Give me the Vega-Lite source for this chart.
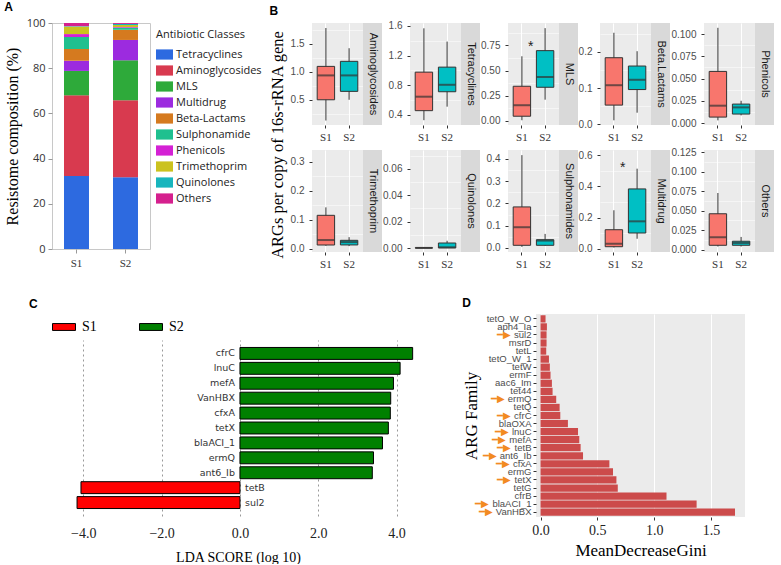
{
"$schema": "https://vega.github.io/schema/vega-lite/v6.json",
"padding": {"left": 3, "top": 0, "right": 0, "bottom": 0},
"background": "#FFFFFF",
"datasets": {
"comp": [
{"sample":"S1","cls":"Tetracyclines","pct":32.3},{"sample":"S1","cls":"Aminoglycosides","pct":35.7},{"sample":"S1","cls":"MLS","pct":10.8},{"sample":"S1","cls":"Multidrug","pct":4.5},{"sample":"S1","cls":"Beta-Lactams","pct":5.2},{"sample":"S1","cls":"Sulphonamide","pct":5.3},{"sample":"S1","cls":"Phenicols","pct":1.3},{"sample":"S1","cls":"Trimethoprim","pct":3.3},{"sample":"S1","cls":"Quinolones","pct":0.2},{"sample":"S1","cls":"Others","pct":1.4},
{"sample":"S2","cls":"Tetracyclines","pct":31.7},{"sample":"S2","cls":"Aminoglycosides","pct":34.1},{"sample":"S2","cls":"MLS","pct":17.7},{"sample":"S2","cls":"Multidrug","pct":9.0},{"sample":"S2","cls":"Beta-Lactams","pct":4.5},{"sample":"S2","cls":"Sulphonamide","pct":0.9},{"sample":"S2","cls":"Phenicols","pct":0.3},{"sample":"S2","cls":"Trimethoprim","pct":0.9},{"sample":"S2","cls":"Quinolones","pct":0.5},{"sample":"S2","cls":"Others","pct":0.4}
],
"box": [
{"cls":"Aminoglycosides","group":"S1","min":0.13,"q1":0.5,"med":0.935,"q3":1.096,"max":1.78},
{"cls":"Aminoglycosides","group":"S2","min":0.5,"q1":0.65,"med":0.935,"q3":1.186,"max":1.42},
{"cls":"Tetracyclines","group":"S1","min":0.325,"q1":0.454,"med":0.643,"q3":0.975,"max":1.568},
{"cls":"Tetracyclines","group":"S2","min":0.508,"q1":0.71,"med":0.804,"q3":1.043,"max":1.389},
{"cls":"MLS","group":"S1","min":0.007,"q1":0.047,"med":0.156,"q3":0.344,"max":0.641},
{"cls":"MLS","group":"S2","min":0.211,"q1":0.334,"med":0.436,"q3":0.697,"max":0.92},
{"cls":"Beta.Lactams","group":"S1","min":0.011,"q1":0.053,"med":0.108,"q3":0.184,"max":0.253},
{"cls":"Beta.Lactams","group":"S2","min":0.032,"q1":0.096,"med":0.123,"q3":0.161,"max":0.202},
{"cls":"Phenicols","group":"S1","min":0.003,"q1":0.0067,"med":0.0195,"q3":0.058,"max":0.107},
{"cls":"Phenicols","group":"S2","min":0.0086,"q1":0.0101,"med":0.0176,"q3":0.0213,"max":0.025},
{"cls":"Trimethoprim","group":"S1","min":0.01,"q1":0.0128,"med":0.03,"q3":0.1155,"max":0.143},
{"cls":"Trimethoprim","group":"S2","min":0.009,"q1":0.013,"med":0.023,"q3":0.029,"max":0.04},
{"cls":"Quinolones","group":"S1","min":0,"q1":0,"med":0.0001,"q3":0.0002,"max":0.0003},
{"cls":"Quinolones","group":"S2","min":0,"q1":0.0001,"med":0.0006,"q3":0.0038,"max":0.0055},
{"cls":"Sulphonamides","group":"S1","min":0.005,"q1":0.012,"med":0.093,"q3":0.184,"max":0.416},
{"cls":"Sulphonamides","group":"S2","min":0.01,"q1":0.012,"med":0.033,"q3":0.037,"max":0.063},
{"cls":"Multidrug","group":"S1","min":0.008,"q1":0.013,"med":0.032,"q3":0.122,"max":0.247},
{"cls":"Multidrug","group":"S2","min":0.064,"q1":0.101,"med":0.176,"q3":0.384,"max":0.514},
{"cls":"Others","group":"S1","min":0.004,"q1":0.0056,"med":0.0159,"q3":0.046,"max":0.0726},
{"cls":"Others","group":"S2","min":0.004,"q1":0.0056,"med":0.0086,"q3":0.0108,"max":0.0163}
],
"stars": [
{"cls":"MLS","group":"S1","v":0.736,"t":"*"},
{"cls":"Multidrug","group":"S1","v":0.517,"t":"*"}
],
"lda": [
{"gene":"cfrC","lda":4.41,"grp":"S2"},{"gene":"lnuC","lda":4.09,"grp":"S2"},{"gene":"mefA","lda":3.92,"grp":"S2"},{"gene":"VanHBX","lda":3.85,"grp":"S2"},{"gene":"cfxA","lda":3.84,"grp":"S2"},{"gene":"tetX","lda":3.79,"grp":"S2"},{"gene":"blaACI_1","lda":3.64,"grp":"S2"},{"gene":"ermQ","lda":3.41,"grp":"S2"},{"gene":"ant6_Ib","lda":3.38,"grp":"S2"},{"gene":"tetB","lda":-4.06,"grp":"S1"},{"gene":"sul2","lda":-4.16,"grp":"S1"}
],
"gini": [
{"gene":"tetO_W_O","g":0.044,"arrow":false},{"gene":"aph4_Ia","g":0.056,"arrow":false},{"gene":"sul2","g":0.053,"arrow":true},{"gene":"msrD","g":0.053,"arrow":false},{"gene":"tetL","g":0.05,"arrow":false},{"gene":"tetO_W_1","g":0.074,"arrow":false},{"gene":"tetW","g":0.082,"arrow":false},{"gene":"ermF","g":0.088,"arrow":false},{"gene":"aac6_Im","g":0.1,"arrow":false},{"gene":"tet44","g":0.106,"arrow":false},{"gene":"ermQ","g":0.138,"arrow":true},{"gene":"tetQ","g":0.168,"arrow":false},{"gene":"cfrC","g":0.174,"arrow":true},{"gene":"blaOXA","g":0.241,"arrow":false},{"gene":"lnuC","g":0.33,"arrow":true},{"gene":"mefA","g":0.341,"arrow":true},{"gene":"tetB","g":0.353,"arrow":true},{"gene":"ant6_Ib","g":0.374,"arrow":true},{"gene":"cfxA","g":0.606,"arrow":true},{"gene":"ermG","g":0.638,"arrow":false},{"gene":"tetX","g":0.668,"arrow":true},{"gene":"tetG","g":0.68,"arrow":false},{"gene":"cfrB","g":1.109,"arrow":false},{"gene":"blaACI_1","g":1.374,"arrow":true},{"gene":"VanHBX","g":1.712,"arrow":true}
]
},
"vconcat": [
{
"hconcat": [
{
"title": {"text": "A"},
"width": 98, "height": 226,
"data": {"name": "comp"},
"transform": [{"calculate": "indexof(['Tetracyclines','Aminoglycosides','MLS','Multidrug','Beta-Lactams','Sulphonamide','Phenicols','Trimethoprim','Quinolones','Others'], datum.cls)", "as": "ord"}],
"view": {"stroke": "#C8C8C8", "strokeWidth": 1},
"mark": {"type": "bar"},
"encoding": {
"x": {"field": "sample", "type": "nominal", "title": null, "scale": {"paddingInner": 0.49, "paddingOuter": 0.245}, "axis": {"grid": false, "labelFont": "Liberation Serif", "labelFontSize": 11, "labelColor": "#333333", "tickColor": "#999999", "tickSize": 4, "labelPadding": 4}},
"y": {"field": "pct", "type": "quantitative", "stack": "zero", "title": "Resistome composition (%)", "scale": {"domain": [0, 100], "nice": false}, "axis": {"grid": false, "values": [0, 20, 40, 60, 80, 100], "labelFont": "Open Sans", "labelFontSize": 11, "labelColor": "#333333", "tickColor": "#999999", "tickSize": 4, "labelPadding": 3, "titleFontSize": 16, "titlePadding": 6}},
"color": {"field": "cls", "type": "nominal",
"scale": {"domain": ["Tetracyclines","Aminoglycosides","MLS","Multidrug","Beta-Lactams","Sulphonamide","Phenicols","Trimethoprim","Quinolones","Others"], "range": ["#2D6AE0","#D83A4F","#2EAA3A","#9C2BDF","#D57A1F","#1FC08F","#D421D4","#CBC21E","#18B5BD","#D5208E"]},
"legend": {"title": "Antibiotic Classes", "titleFont": "Open Sans", "titleFontSize": 11, "titleFontWeight": "normal", "titleColor": "#222222", "titlePadding": 6, "labelFont": "Open Sans", "labelFontSize": 11, "labelColor": "#222222", "symbolType": "M-1,-0.6H1V0.6H-1Z", "symbolSize": 289, "symbolStrokeWidth": 0, "rowPadding": 2, "labelOffset": 3, "offset": 0, "padding": 6}},
"order": {"field": "ord", "type": "quantitative"}
}
},
{
"title": {"text": "B"},
"vconcat": [
{
"title": {"text": "ARGs per copy of 16s-rRNA gene", "orient": "left", "anchor": "middle", "font": "Liberation Serif", "fontSize": 16.5, "fontWeight": "normal", "offset": 4},
"columns": 10, "align": "each", "spacing": {"row": 5, "column": 0},
"concat": [
{"width":51,"height":102,"data":{"name":"box"},"transform":[{"filter":"datum.cls==='Aminoglycosides'"}],"view":{"fill":"#EBEBEB","stroke":null},"encoding":{"x":{"field":"group","type":"nominal","title":null,"scale":{"domain":["S1","S2"],"paddingInner":0.25,"paddingOuter":0.224},"axis":{"bandPosition":0.5}}},"layer":[{"mark":{"type":"rule","color":"#333333"},"encoding":{"y":{"field":"min","type":"quantitative","title":null,"scale":{"domain":[0.05,1.87],"nice":false,"zero":false},"axis":{"orient":"left","values":[0.25,0.75,1.25,1.75],"labels":false,"ticks":false,"gridWidth":0.5}},"y2":{"field":"max"}}},{"mark":{"type":"bar","stroke":"#333333","strokeWidth":1},"encoding":{"y":{"field":"q1","type":"quantitative","title":null,"scale":{"domain":[0.05,1.87],"nice":false,"zero":false},"axis":{"orient":"left","values":[0.5,1,1.5],"format":".1f"}},"y2":{"field":"q3"},"color":{"field":"group","type":"nominal","scale":{"domain":["S1","S2"],"range":["#F8766D","#00BFC4"]},"legend":null}}},{"mark":{"type":"tick","color":"#333333","thickness":2,"size":17},"encoding":{"y":{"field":"med","type":"quantitative","scale":{"domain":[0.05,1.87],"nice":false,"zero":false},"axis":null}}}],"resolve":{"axis":{"y":"independent"}}},
{"width":19,"height":102,"data":{"values":[{"t":"Aminoglycosides"}]},"view":{"fill":"#D9D9D9","stroke":null},"mark":{"type":"text","angle":90,"font":"Liberation Sans","fontSize":11,"color":"#1A1A1A"},"encoding":{"text":{"field":"t","type":"nominal"}}},

{"width":51,"height":102,"data":{"name":"box"},"transform":[{"filter":"datum.cls==='Tetracyclines'"}],"view":{"fill":"#EBEBEB","stroke":null},"encoding":{"x":{"field":"group","type":"nominal","title":null,"scale":{"domain":["S1","S2"],"paddingInner":0.25,"paddingOuter":0.224},"axis":{"bandPosition":0.5}}},"layer":[{"mark":{"type":"rule","color":"#333333"},"encoding":{"y":{"field":"min","type":"quantitative","title":null,"scale":{"domain":[0.26,1.64],"nice":false,"zero":false},"axis":{"orient":"left","values":[0.6,1.0,1.4],"labels":false,"ticks":false,"gridWidth":0.5}},"y2":{"field":"max"}}},{"mark":{"type":"bar","stroke":"#333333","strokeWidth":1},"encoding":{"y":{"field":"q1","type":"quantitative","title":null,"scale":{"domain":[0.26,1.64],"nice":false,"zero":false},"axis":{"orient":"left","values":[0.4,0.8,1.2,1.6],"format":".1f"}},"y2":{"field":"q3"},"color":{"field":"group","type":"nominal","scale":{"domain":["S1","S2"],"range":["#F8766D","#00BFC4"]},"legend":null}}},{"mark":{"type":"tick","color":"#333333","thickness":2,"size":17},"encoding":{"y":{"field":"med","type":"quantitative","scale":{"domain":[0.26,1.64],"nice":false,"zero":false},"axis":null}}}],"resolve":{"axis":{"y":"independent"}}},
{"width":19,"height":102,"data":{"values":[{"t":"Tetracyclines"}]},"view":{"fill":"#D9D9D9","stroke":null},"mark":{"type":"text","angle":90,"font":"Liberation Sans","fontSize":11,"color":"#1A1A1A"},"encoding":{"text":{"field":"t","type":"nominal"}}},

{"width":51,"height":102,"data":{"name":"box"},"transform":[{"filter":"datum.cls==='MLS'"}],"view":{"fill":"#EBEBEB","stroke":null},"encoding":{"x":{"field":"group","type":"nominal","title":null,"scale":{"domain":["S1","S2"],"paddingInner":0.25,"paddingOuter":0.224},"axis":{"bandPosition":0.5}}},"layer":[{"mark":{"type":"rule","color":"#333333"},"encoding":{"y":{"field":"min","type":"quantitative","title":null,"scale":{"domain":[-0.04,0.971],"nice":false,"zero":false},"axis":{"orient":"left","values":[0.125,0.375,0.625,0.875],"labels":false,"ticks":false,"gridWidth":0.5}},"y2":{"field":"max"}}},{"mark":{"type":"bar","stroke":"#333333","strokeWidth":1},"encoding":{"y":{"field":"q1","type":"quantitative","title":null,"scale":{"domain":[-0.04,0.971],"nice":false,"zero":false},"axis":{"orient":"left","values":[0,0.25,0.5,0.75],"format":".2f"}},"y2":{"field":"q3"},"color":{"field":"group","type":"nominal","scale":{"domain":["S1","S2"],"range":["#F8766D","#00BFC4"]},"legend":null}}},{"mark":{"type":"tick","color":"#333333","thickness":2,"size":17},"encoding":{"y":{"field":"med","type":"quantitative","scale":{"domain":[-0.04,0.971],"nice":false,"zero":false},"axis":null}}},{"data":{"name":"stars"},"transform":[{"filter":"datum.cls==='MLS'"}],"mark":{"type":"text","font":"Liberation Sans","fontSize":14,"color":"#222222"},"encoding":{"x":{"field":"group","type":"nominal","bandPosition":1},"y":{"field":"v","type":"quantitative","scale":{"domain":[-0.04,0.971],"nice":false,"zero":false},"axis":null},"text":{"field":"t","type":"nominal"}}}],"resolve":{"axis":{"y":"independent"}}},
{"width":19,"height":102,"data":{"values":[{"t":"MLS"}]},"view":{"fill":"#D9D9D9","stroke":null},"mark":{"type":"text","angle":90,"font":"Liberation Sans","fontSize":11,"color":"#1A1A1A"},"encoding":{"text":{"field":"t","type":"nominal"}}},

{"width":51,"height":102,"data":{"name":"box"},"transform":[{"filter":"datum.cls==='Beta.Lactams'"}],"view":{"fill":"#EBEBEB","stroke":null},"encoding":{"x":{"field":"group","type":"nominal","title":null,"scale":{"domain":["S1","S2"],"paddingInner":0.25,"paddingOuter":0.224},"axis":{"bandPosition":0.5}}},"layer":[{"mark":{"type":"rule","color":"#333333"},"encoding":{"y":{"field":"min","type":"quantitative","title":null,"scale":{"domain":[-0.002,0.28],"nice":false,"zero":false},"axis":{"orient":"left","values":[0.05,0.15,0.25],"labels":false,"ticks":false,"gridWidth":0.5}},"y2":{"field":"max"}}},{"mark":{"type":"bar","stroke":"#333333","strokeWidth":1},"encoding":{"y":{"field":"q1","type":"quantitative","title":null,"scale":{"domain":[-0.002,0.28],"nice":false,"zero":false},"axis":{"orient":"left","values":[0,0.1,0.2],"format":".1f"}},"y2":{"field":"q3"},"color":{"field":"group","type":"nominal","scale":{"domain":["S1","S2"],"range":["#F8766D","#00BFC4"]},"legend":null}}},{"mark":{"type":"tick","color":"#333333","thickness":2,"size":17},"encoding":{"y":{"field":"med","type":"quantitative","scale":{"domain":[-0.002,0.28],"nice":false,"zero":false},"axis":null}}}],"resolve":{"axis":{"y":"independent"}}},
{"width":19,"height":102,"data":{"values":[{"t":"Beta.Lactams"}]},"view":{"fill":"#D9D9D9","stroke":null},"mark":{"type":"text","angle":90,"font":"Liberation Sans","fontSize":11,"color":"#1A1A1A"},"encoding":{"text":{"field":"t","type":"nominal"}}},

{"width":51,"height":102,"data":{"name":"box"},"transform":[{"filter":"datum.cls==='Phenicols'"}],"view":{"fill":"#EBEBEB","stroke":null},"encoding":{"x":{"field":"group","type":"nominal","title":null,"scale":{"domain":["S1","S2"],"paddingInner":0.25,"paddingOuter":0.224},"axis":{"bandPosition":0.5}}},"layer":[{"mark":{"type":"rule","color":"#333333"},"encoding":{"y":{"field":"min","type":"quantitative","title":null,"scale":{"domain":[-0.0022,0.1124],"nice":false,"zero":false},"axis":{"orient":"left","values":[0.0125,0.0375,0.0625,0.0875],"labels":false,"ticks":false,"gridWidth":0.5}},"y2":{"field":"max"}}},{"mark":{"type":"bar","stroke":"#333333","strokeWidth":1},"encoding":{"y":{"field":"q1","type":"quantitative","title":null,"scale":{"domain":[-0.0022,0.1124],"nice":false,"zero":false},"axis":{"orient":"left","values":[0,0.025,0.05,0.075,0.1],"format":".3f"}},"y2":{"field":"q3"},"color":{"field":"group","type":"nominal","scale":{"domain":["S1","S2"],"range":["#F8766D","#00BFC4"]},"legend":null}}},{"mark":{"type":"tick","color":"#333333","thickness":2,"size":17},"encoding":{"y":{"field":"med","type":"quantitative","scale":{"domain":[-0.0022,0.1124],"nice":false,"zero":false},"axis":null}}}],"resolve":{"axis":{"y":"independent"}}},
{"width":19,"height":102,"data":{"values":[{"t":"Phenicols"}]},"view":{"fill":"#D9D9D9","stroke":null},"mark":{"type":"text","angle":90,"font":"Liberation Sans","fontSize":11,"color":"#1A1A1A"},"encoding":{"text":{"field":"t","type":"nominal"}}},

{"width":51,"height":102,"data":{"name":"box"},"transform":[{"filter":"datum.cls==='Trimethoprim'"}],"view":{"fill":"#EBEBEB","stroke":null},"encoding":{"x":{"field":"group","type":"nominal","title":null,"scale":{"domain":["S1","S2"],"paddingInner":0.25,"paddingOuter":0.224},"axis":{"bandPosition":0.5}}},"layer":[{"mark":{"type":"rule","color":"#333333"},"encoding":{"y":{"field":"min","type":"quantitative","title":null,"scale":{"domain":[-0.0114,0.3415],"nice":false,"zero":false},"axis":{"orient":"left","values":[0.05,0.15,0.25],"labels":false,"ticks":false,"gridWidth":0.5}},"y2":{"field":"max"}}},{"mark":{"type":"bar","stroke":"#333333","strokeWidth":1},"encoding":{"y":{"field":"q1","type":"quantitative","title":null,"scale":{"domain":[-0.0114,0.3415],"nice":false,"zero":false},"axis":{"orient":"left","values":[0,0.1,0.2,0.3],"format":".1f"}},"y2":{"field":"q3"},"color":{"field":"group","type":"nominal","scale":{"domain":["S1","S2"],"range":["#F8766D","#00BFC4"]},"legend":null}}},{"mark":{"type":"tick","color":"#333333","thickness":2,"size":17},"encoding":{"y":{"field":"med","type":"quantitative","scale":{"domain":[-0.0114,0.3415],"nice":false,"zero":false},"axis":null}}}],"resolve":{"axis":{"y":"independent"}}},
{"width":19,"height":102,"data":{"values":[{"t":"Trimethoprim"}]},"view":{"fill":"#D9D9D9","stroke":null},"mark":{"type":"text","angle":90,"font":"Liberation Sans","fontSize":11,"color":"#1A1A1A"},"encoding":{"text":{"field":"t","type":"nominal"}}},

{"width":51,"height":102,"data":{"name":"box"},"transform":[{"filter":"datum.cls==='Quinolones'"}],"view":{"fill":"#EBEBEB","stroke":null},"encoding":{"x":{"field":"group","type":"nominal","title":null,"scale":{"domain":["S1","S2"],"paddingInner":0.25,"paddingOuter":0.224},"axis":{"bandPosition":0.5}}},"layer":[{"mark":{"type":"rule","color":"#333333"},"encoding":{"y":{"field":"min","type":"quantitative","title":null,"scale":{"domain":[-0.003,0.0742],"nice":false,"zero":false},"axis":{"orient":"left","values":[0.01,0.03,0.05,0.07],"labels":false,"ticks":false,"gridWidth":0.5}},"y2":{"field":"max"}}},{"mark":{"type":"bar","stroke":"#333333","strokeWidth":1},"encoding":{"y":{"field":"q1","type":"quantitative","title":null,"scale":{"domain":[-0.003,0.0742],"nice":false,"zero":false},"axis":{"orient":"left","values":[0,0.02,0.04,0.06],"format":".2f"}},"y2":{"field":"q3"},"color":{"field":"group","type":"nominal","scale":{"domain":["S1","S2"],"range":["#F8766D","#00BFC4"]},"legend":null}}},{"mark":{"type":"tick","color":"#333333","thickness":2,"size":17},"encoding":{"y":{"field":"med","type":"quantitative","scale":{"domain":[-0.003,0.0742],"nice":false,"zero":false},"axis":null}}}],"resolve":{"axis":{"y":"independent"}}},
{"width":19,"height":102,"data":{"values":[{"t":"Quinolones"}]},"view":{"fill":"#D9D9D9","stroke":null},"mark":{"type":"text","angle":90,"font":"Liberation Sans","fontSize":11,"color":"#1A1A1A"},"encoding":{"text":{"field":"t","type":"nominal"}}},

{"width":51,"height":102,"data":{"name":"box"},"transform":[{"filter":"datum.cls==='Sulphonamides'"}],"view":{"fill":"#EBEBEB","stroke":null},"encoding":{"x":{"field":"group","type":"nominal","title":null,"scale":{"domain":["S1","S2"],"paddingInner":0.25,"paddingOuter":0.224},"axis":{"bandPosition":0.5}}},"layer":[{"mark":{"type":"rule","color":"#333333"},"encoding":{"y":{"field":"min","type":"quantitative","title":null,"scale":{"domain":[-0.018,0.439],"nice":false,"zero":false},"axis":{"orient":"left","values":[0.05,0.15,0.25,0.35],"labels":false,"ticks":false,"gridWidth":0.5}},"y2":{"field":"max"}}},{"mark":{"type":"bar","stroke":"#333333","strokeWidth":1},"encoding":{"y":{"field":"q1","type":"quantitative","title":null,"scale":{"domain":[-0.018,0.439],"nice":false,"zero":false},"axis":{"orient":"left","values":[0,0.1,0.2,0.3,0.4],"format":".1f"}},"y2":{"field":"q3"},"color":{"field":"group","type":"nominal","scale":{"domain":["S1","S2"],"range":["#F8766D","#00BFC4"]},"legend":null}}},{"mark":{"type":"tick","color":"#333333","thickness":2,"size":17},"encoding":{"y":{"field":"med","type":"quantitative","scale":{"domain":[-0.018,0.439],"nice":false,"zero":false},"axis":null}}}],"resolve":{"axis":{"y":"independent"}}},
{"width":19,"height":102,"data":{"values":[{"t":"Sulphonamides"}]},"view":{"fill":"#D9D9D9","stroke":null},"mark":{"type":"text","angle":90,"font":"Liberation Sans","fontSize":11,"color":"#1A1A1A"},"encoding":{"text":{"field":"t","type":"nominal"}}},

{"width":51,"height":102,"data":{"name":"box"},"transform":[{"filter":"datum.cls==='Multidrug'"}],"view":{"fill":"#EBEBEB","stroke":null},"encoding":{"x":{"field":"group","type":"nominal","title":null,"scale":{"domain":["S1","S2"],"paddingInner":0.25,"paddingOuter":0.224},"axis":{"bandPosition":0.5}}},"layer":[{"mark":{"type":"rule","color":"#333333"},"encoding":{"y":{"field":"min","type":"quantitative","title":null,"scale":{"domain":[-0.021,0.634],"nice":false,"zero":false},"axis":{"orient":"left","values":[0.1,0.3,0.5],"labels":false,"ticks":false,"gridWidth":0.5}},"y2":{"field":"max"}}},{"mark":{"type":"bar","stroke":"#333333","strokeWidth":1},"encoding":{"y":{"field":"q1","type":"quantitative","title":null,"scale":{"domain":[-0.021,0.634],"nice":false,"zero":false},"axis":{"orient":"left","values":[0,0.2,0.4,0.6],"format":".1f"}},"y2":{"field":"q3"},"color":{"field":"group","type":"nominal","scale":{"domain":["S1","S2"],"range":["#F8766D","#00BFC4"]},"legend":null}}},{"mark":{"type":"tick","color":"#333333","thickness":2,"size":17},"encoding":{"y":{"field":"med","type":"quantitative","scale":{"domain":[-0.021,0.634],"nice":false,"zero":false},"axis":null}}},{"data":{"name":"stars"},"transform":[{"filter":"datum.cls==='Multidrug'"}],"mark":{"type":"text","font":"Liberation Sans","fontSize":14,"color":"#222222"},"encoding":{"x":{"field":"group","type":"nominal","bandPosition":1},"y":{"field":"v","type":"quantitative","scale":{"domain":[-0.021,0.634],"nice":false,"zero":false},"axis":null},"text":{"field":"t","type":"nominal"}}}],"resolve":{"axis":{"y":"independent"}}},
{"width":19,"height":102,"data":{"values":[{"t":"Multidrug"}]},"view":{"fill":"#D9D9D9","stroke":null},"mark":{"type":"text","angle":90,"font":"Liberation Sans","fontSize":11,"color":"#1A1A1A"},"encoding":{"text":{"field":"t","type":"nominal"}}},

{"width":51,"height":102,"data":{"name":"box"},"transform":[{"filter":"datum.cls==='Others'"}],"view":{"fill":"#EBEBEB","stroke":null},"encoding":{"x":{"field":"group","type":"nominal","title":null,"scale":{"domain":["S1","S2"],"paddingInner":0.25,"paddingOuter":0.224},"axis":{"bandPosition":0.5}}},"layer":[{"mark":{"type":"rule","color":"#333333"},"encoding":{"y":{"field":"min","type":"quantitative","title":null,"scale":{"domain":[-0.003,0.1277],"nice":false,"zero":false},"axis":{"orient":"left","values":[0.0125,0.0375,0.0625,0.0875,0.1125],"labels":false,"ticks":false,"gridWidth":0.5}},"y2":{"field":"max"}}},{"mark":{"type":"bar","stroke":"#333333","strokeWidth":1},"encoding":{"y":{"field":"q1","type":"quantitative","title":null,"scale":{"domain":[-0.003,0.1277],"nice":false,"zero":false},"axis":{"orient":"left","values":[0,0.025,0.05,0.075,0.1,0.125],"format":".3f"}},"y2":{"field":"q3"},"color":{"field":"group","type":"nominal","scale":{"domain":["S1","S2"],"range":["#F8766D","#00BFC4"]},"legend":null}}},{"mark":{"type":"tick","color":"#333333","thickness":2,"size":17},"encoding":{"y":{"field":"med","type":"quantitative","scale":{"domain":[-0.003,0.1277],"nice":false,"zero":false},"axis":null}}}],"resolve":{"axis":{"y":"independent"}}},
{"width":19,"height":102,"data":{"values":[{"t":"Others"}]},"view":{"fill":"#D9D9D9","stroke":null},"mark":{"type":"text","angle":90,"font":"Liberation Sans","fontSize":11,"color":"#1A1A1A"},"encoding":{"text":{"field":"t","type":"nominal"}}}
]
}
]
}
],
"spacing": 0,
"resolve": {"scale": {"color": "independent"}}
},
{
"hconcat": [
{
"title": {"text": "C", "dx": -23},
"vconcat": [
{
"width": 372, "height": 1,
"data": {"name": "lda"},
"mark": {"type": "bar", "opacity": 0},
"encoding": {"color": {"field": "grp", "type": "nominal", "scale": {"domain": ["S1", "S2"], "range": ["#FF0000", "#008000"]},
"legend": {"orient": "bottom", "direction": "horizontal", "title": null, "symbolType": "M-1,-0.3H1V0.3H-1Z", "symbolSize": 529, "symbolOpacity": 1, "symbolStrokeColor": "#000000", "symbolStrokeWidth": 1, "labelFont": "Liberation Serif", "labelFontSize": 14, "labelColor": "#000000", "labelOffset": 6, "columnPadding": 40, "offset": 0, "padding": 0}}}
},
{
"width": 372, "height": 176,
"data": {"name": "lda"},
"encoding": {"y": {"field": "gene", "type": "nominal", "sort": null, "axis": null, "scale": {"paddingInner": 0.2, "paddingOuter": 0.5}}},
"layer": [
{"mark": {"type": "bar", "stroke": "#000000", "strokeWidth": 1},
"encoding": {
"x": {"field": "lda", "type": "quantitative", "title": "LDA SCORE (log 10)", "scale": {"domain": [-4.8, 4.7], "nice": false, "zero": false},
"axis": {"values": [-4, -2, 0, 2, 4], "format": ".1f", "grid": true, "gridColor": "#999999", "gridDash": [2, 3], "gridWidth": 1, "domain": false, "ticks": false, "labelFont": "Liberation Serif", "labelFontSize": 14, "labelColor": "#222222", "labelPadding": 10, "titleFont": "Liberation Serif", "titleFontSize": 14, "titlePadding": 10}},
"color": {"field": "grp", "type": "nominal", "scale": {"domain": ["S1", "S2"], "range": ["#FF0000", "#008000"]}, "legend": null}
}},
{"transform": [{"filter": "datum.lda > 0"}], "mark": {"type": "text", "align": "right", "dx": -5, "font": "DejaVu Sans", "fontSize": 9.5, "color": "#333333"}, "encoding": {"x": {"datum": 0}, "text": {"field": "gene", "type": "nominal"}}},
{"transform": [{"filter": "datum.lda < 0"}], "mark": {"type": "text", "align": "left", "dx": 5, "font": "DejaVu Sans", "fontSize": 9.5, "color": "#333333"}, "encoding": {"x": {"datum": 0}, "text": {"field": "gene", "type": "nominal"}}}
]
}
],
"spacing": 6,
"resolve": {"scale": {"color": "independent"}}
},
{
"title": {"text": "D"},
"width": 209, "height": 203,
"data": {"name": "gini"},
"view": {"fill": "#EBEBEB", "stroke": null},
"encoding": {"y": {"field": "gene", "type": "nominal", "sort": null, "title": "ARG Family", "scale": {"paddingInner": 0.1, "paddingOuter": 0.15}, "axis": {"grid": false, "zindex": 1, "labelFontSize": 9.5, "labelPadding": 2, "tickSize": 3, "titleFontSize": 17, "titlePadding": 6}}},
"layer": [
{"mark": {"type": "bar", "color": "#CC4B4B"}, "encoding": {"x": {"field": "g", "type": "quantitative", "title": "MeanDecreaseGini", "scale": {"domain": [-0.04, 1.8], "nice": false, "zero": false}, "axis": {"orient": "bottom", "values": [0, 0.5, 1, 1.5], "format": ".1f", "labelFont": "Liberation Serif", "labelFontSize": 14, "labelColor": "#222222", "labelPadding": 3, "titleFontSize": 17, "titlePadding": 5}}}},
{"transform": [{"filter": "datum.arrow"}, {"calculate": "'━▶ ' + datum.gene", "as": "al"}], "mark": {"type": "text", "align": "right", "dx": -5, "font": "Liberation Sans", "fontSize": 9.5, "color": "#F28A22"}, "encoding": {"x": {"datum": -0.04, "title": null, "axis": {"orient": "bottom", "values": [0.25, 0.75, 1.25, 1.75], "labels": false, "ticks": false, "gridWidth": 0.5}}, "text": {"field": "al", "type": "nominal"}}},
{"transform": [{"filter": "datum.arrow"}], "mark": {"type": "text", "align": "right", "dx": -5, "font": "Liberation Sans", "fontSize": 9.5, "color": "#FFFFFF", "stroke": "#FFFFFF", "strokeWidth": 1.6}, "encoding": {"x": {"datum": -0.04, "axis": null}, "text": {"field": "gene", "type": "nominal"}}}
],
"resolve": {"axis": {"x": "independent"}}
}
],
"spacing": 38,
"resolve": {"scale": {"color": "independent"}}
}
],
"spacing": 28,
"resolve": {"scale": {"color": "independent"}},
"config": {
"view": {"stroke": null},
"title": {"anchor": "start", "font": "Liberation Sans", "fontSize": 12, "fontWeight": "bold", "color": "#000000", "offset": 3},
"axis": {"domain": false, "grid": true, "gridColor": "#FFFFFF", "gridWidth": 1, "tickColor": "#333333", "tickSize": 3, "labelColor": "#4D4D4D", "labelFont": "Liberation Sans", "labelFontSize": 10, "labelPadding": 5, "titleFont": "Liberation Serif", "titleFontWeight": "normal", "titleColor": "#000000"},
"axisX": {"labelAngle": 0, "labelFont": "Liberation Serif", "labelFontSize": 11, "labelColor": "#333333", "labelPadding": 3}
}
}
